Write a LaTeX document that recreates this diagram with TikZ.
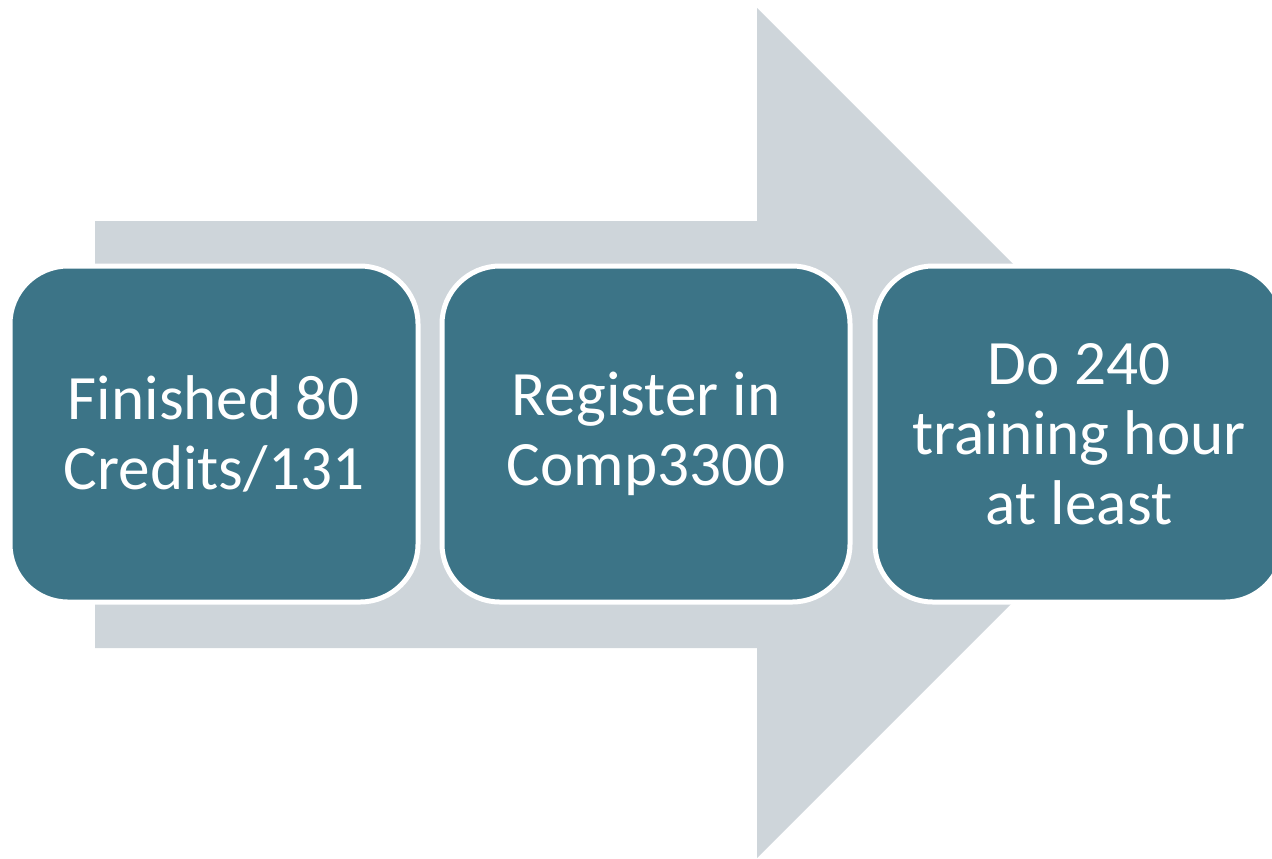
\documentclass[tikz,border=0pt]{standalone}
\usepackage{fontspec}
\setmainfont{Carlito}
\definecolor{arrowgray}{RGB}{206,213,218}
\definecolor{boxteal}{RGB}{60,116,135}
\tikzset{
  stepbox/.style={draw=white, line width=2.5pt, fill=boxteal, rounded corners=29pt,
    minimum width=204pt, minimum height=168pt, inner sep=0pt, text=white, align=center,
    font=\fontsize{31.6}{35}\selectfont},
}
\begin{document}
\begin{tikzpicture}[x=0.5pt,y=-0.5pt]
\useasboundingbox (0,0) rectangle (1272,858);
\clip (0,0) rectangle (1272,858);
\fill[arrowgray] (95,221) -- (757,221) -- (757,8) -- (1182,433) -- (757,858) -- (757,648) -- (95,648) -- cycle;
\node[stepbox] (b1) at (214,434) {Finished 80\\Credits/131};
\node[stepbox] (b2) at (646,434) {Register in\\Comp3300};
\node[stepbox] (b3) at (1079,434) {Do 240\\training hour\\at least};
\end{tikzpicture}
\end{document}
